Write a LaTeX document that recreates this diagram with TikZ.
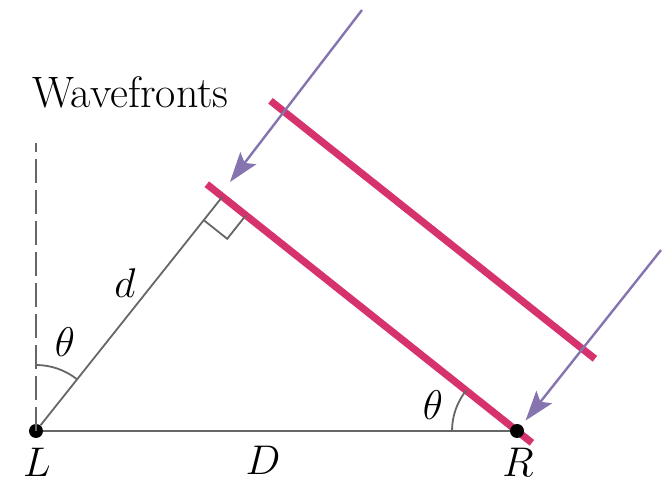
\documentclass[tikz,border=0pt]{standalone}
\usepackage{amsmath}
\usepackage{tikz}
\usetikzlibrary{arrows.meta, positioning, calc}
\definecolor{wavePink}{HTML}{D6336E}
\definecolor{rayPurple}{HTML}{8574AE}
\colorlet{baseGray}{black!60}

\begin{document}
\begin{tikzpicture}[x=0.5pt, y=0.5pt, font=\fontsize{22}{26}\selectfont,
  dot/.style={circle, fill=black, inner sep=0pt, minimum size=7pt},
  lbl/.style={inner sep=1pt},
  thin line/.style={baseGray, line width=0.9pt},
  front/.style={wavePink, line width=3.6pt},
  ray/.style={-{Stealth[length=15pt, width=10pt, inset=3pt]}, rayPurple, line width=1.2pt},
]
  \useasboundingbox (-36,-55) rectangle (632,431);
  % wavefronts
  \draw[front] (170.8,246.8) -- (495.9,-11.8);
  \draw[front] (234.5,330.2) -- (558.9,72.2);
  % points
  \node[dot] (L) at (0,0) {};
  \node[dot] (R) at (481,0) {};
  \coordinate (P) at (186.4,234.3);
  \coordinate (top) at (0,288);
  % base, normal and d
  \draw[thin line, dash pattern=on 12pt off 3.5pt] (L.center) -- (top);
  \draw[thin line] (L) -- (R);
  \draw[thin line] (L) -- (P);
  % right angle
  \draw[thin line] (167.7,210.9) -- (191.2,192.2) -- (209.9,215.7);
  % angle arcs
  \draw[thin line] (0,66) arc[start angle=90, end angle=51.5, radius=66];
  \draw[thin line] (416,0) arc[start angle=180, end angle=141.5, radius=65];
  % rays
  \coordinate (ray1 tail) at (326,421);
  \coordinate (ray1 tip) at (194,249);
  \coordinate (ray2 tail) at (625,181);
  \coordinate (ray2 tip) at (489.5,10.4);
  \draw[ray] (ray1 tail) -- (ray1 tip);
  \draw[ray] (ray2 tail) -- (ray2 tip);
  % labels
  \node[lbl] (Llbl) at (1,-31) {$L$};
  \node[lbl] (Rlbl) at (482,-31) {$R$};
  \node[lbl] (Dlbl) at (227,-29) {$D$};
  \node[lbl] (dlbl) at (89,148) {$d$};
  \node[lbl] (thL) at (29,89) {$\theta$};
  \node[lbl] (thR) at (397,26) {$\theta$};
  \node[lbl, anchor=base west] (wf) at (-6,323) {Wavefronts};
\end{tikzpicture}
\end{document}
